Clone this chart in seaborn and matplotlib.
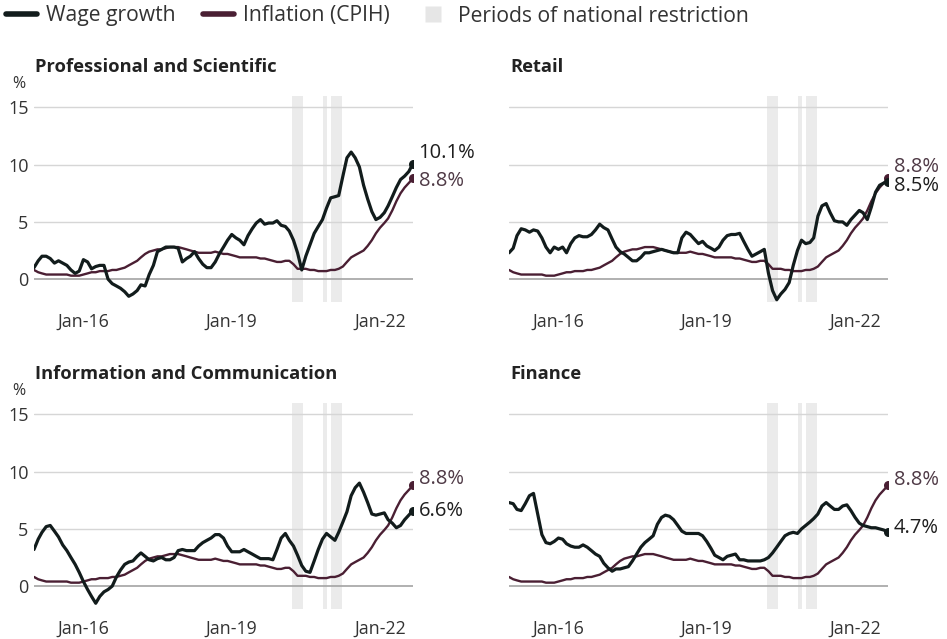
import pandas as pd
import matplotlib.pyplot as plt
import seaborn as sns
from matplotlib.lines import Line2D

# monthly, Jan 2015 - Sep 2022
months = pd.date_range("2015-01-01", periods=93, freq="MS")

cpih = [0.8, 0.6, 0.5, 0.4, 0.4, 0.4, 0.4, 0.4, 0.4, 0.3, 0.3, 0.3,
        0.4, 0.5, 0.6, 0.6, 0.7, 0.7, 0.7, 0.8, 0.8, 0.9, 1.0, 1.2,
        1.4, 1.6, 1.9, 2.2, 2.4, 2.5, 2.6, 2.6, 2.7, 2.8, 2.8, 2.8,
        2.7, 2.6, 2.5, 2.4, 2.3, 2.3, 2.3, 2.3, 2.4, 2.3, 2.2, 2.2,
        2.1, 2.0, 1.9, 1.9, 1.9, 1.9, 1.9, 1.8, 1.8, 1.7, 1.6, 1.5,
        1.5, 1.6, 1.6, 1.3, 0.9, 0.9, 0.9, 0.8, 0.8, 0.7, 0.7, 0.7,
        0.8, 0.8, 0.9, 1.1, 1.5, 1.9, 2.1, 2.3, 2.5, 2.9, 3.4, 4.0,
        4.5, 4.9, 5.3, 6.0, 6.8, 7.5, 8.0, 8.4, 8.8]

wage_prof = [1.0, 1.6, 2.0, 2.0, 1.8, 1.4, 1.6, 1.4, 1.2, 0.8, 0.5, 0.7,
             1.7, 1.5, 0.9, 1.1, 1.2, 1.2, 0.0, -0.4, -0.6, -0.8, -1.1, -1.5,
             -1.3, -1.0, -0.5, -0.6, 0.4, 1.2, 2.4, 2.6, 2.8, 2.8, 2.8, 2.7,
             1.5, 1.8, 2.0, 2.4, 1.8, 1.3, 1.0, 1.0, 1.5, 2.2, 2.8, 3.4,
             3.9, 3.6, 3.4, 3.0, 3.8, 4.4, 4.9, 5.2, 4.8, 4.9, 4.9, 5.1,
             4.7, 4.6, 4.2, 3.4, 2.3, 0.8, 2.0, 3.0, 4.0, 4.6, 5.2, 6.2,
             7.1, 7.2, 7.3, 9.0, 10.6, 11.1, 10.6, 9.8, 8.2, 7.0, 5.9, 5.2,
             5.4, 5.8, 6.4, 7.2, 8.0, 8.7, 9.0, 9.4, 10.1]

wage_retail = [2.3, 2.7, 3.8, 4.4, 4.3, 4.1, 4.3, 4.2, 3.6, 2.8, 2.3, 2.8,
               2.6, 2.8, 2.3, 3.1, 3.6, 3.8, 3.7, 3.7, 3.9, 4.3, 4.8, 4.5,
               4.3, 3.5, 2.8, 2.4, 2.2, 1.9, 1.6, 1.6, 1.9, 2.3, 2.3, 2.4,
               2.5, 2.6, 2.5, 2.4, 2.3, 2.3, 3.6, 4.1, 3.9, 3.5, 3.1, 3.3,
               2.9, 2.7, 2.5, 2.8, 3.4, 3.8, 3.9, 3.9, 4.0, 3.3, 2.6, 2.0,
               2.2, 2.4, 2.6, 0.5, -1.0, -1.8, -1.3, -0.9, -0.3, 1.2, 2.5, 3.4,
               3.1, 3.2, 3.6, 5.5, 6.4, 6.6, 5.8, 5.1, 5.0, 5.0, 4.7, 5.2,
               5.6, 6.0, 5.8, 5.2, 6.3, 7.6, 8.2, 8.4, 8.5]

wage_info = [3.2, 4.1, 4.7, 5.2, 5.3, 4.8, 4.3, 3.6, 3.1, 2.5, 1.9, 1.2,
             0.4, -0.3, -0.9, -1.5, -0.9, -0.5, -0.3, 0.0, 0.8, 1.4, 1.9, 2.1,
             2.2, 2.6, 2.9, 2.6, 2.3, 2.2, 2.4, 2.5, 2.3, 2.3, 2.5, 3.1,
             3.2, 3.1, 3.1, 3.1, 3.5, 3.8, 4.0, 4.2, 4.5, 4.5, 4.2, 3.5,
             3.0, 3.0, 3.0, 3.2, 3.0, 2.8, 2.6, 2.4, 2.4, 2.4, 2.3, 3.2,
             4.2, 4.6, 4.0, 3.5, 2.7, 1.8, 1.3, 1.2, 2.2, 3.2, 4.1, 4.6,
             4.3, 4.0, 4.7, 5.6, 6.5, 7.9, 8.6, 9.0, 8.2, 7.3, 6.3, 6.2,
             6.3, 6.4, 5.8, 5.5, 5.1, 5.3, 5.8, 6.2, 6.6]

wage_finance = [7.3, 7.2, 6.7, 6.6, 7.2, 7.9, 8.1, 6.3, 4.5, 3.8, 3.7, 3.9,
                4.2, 4.1, 3.7, 3.5, 3.4, 3.4, 3.6, 3.4, 3.1, 2.8, 2.6, 2.0,
                1.6, 1.3, 1.5, 1.5, 1.6, 1.7, 2.2, 2.8, 3.4, 3.8, 4.1, 4.4,
                5.4, 6.0, 6.2, 6.1, 5.8, 5.3, 4.8, 4.6, 4.6, 4.6, 4.6, 4.4,
                3.9, 3.3, 2.7, 2.5, 2.3, 2.6, 2.7, 2.8, 2.3, 2.3, 2.2, 2.2,
                2.2, 2.2, 2.3, 2.5, 2.9, 3.4, 3.9, 4.4, 4.6, 4.7, 4.6, 5.0,
                5.3, 5.6, 5.9, 6.3, 7.0, 7.3, 7.0, 6.7, 6.7, 7.0, 7.1, 6.6,
                6.0, 5.5, 5.3, 5.2, 5.1, 5.1, 5.0, 4.9, 4.7]

sectors = ["Professional and Scientific", "Retail",
           "Information and Communication", "Finance"]
wages = [wage_prof, wage_retail, wage_info, wage_finance]

restrictions = [("2020-03-23", "2020-06-08"),
                ("2020-11-05", "2020-12-02"),
                ("2021-01-06", "2021-03-29")]

tick_dates = pd.to_datetime(["2016-01-01", "2019-01-01", "2022-01-01"])
tick_labels = ["Jan-16", "Jan-19", "Jan-22"]

rows = []
for sector, w in zip(sectors, wages):
    for d, wv, cv in zip(months, w, cpih):
        rows.append((sector, d, "Wage growth", wv))
        rows.append((sector, d, "Inflation (CPIH)", cv))
df = pd.DataFrame(rows, columns=["sector", "date", "series", "value"])

WAGE = "#121c1c"
CPI = "#4a1f33"

sns.set_theme(style="white")
plt.rcParams["font.family"] = ["Open Sans", "DejaVu Sans"]

fig = plt.figure(figsize=(9.47, 6.39), dpi=100)
W, H = 947, 639
boxes = [(34, 96), (509, 96), (34, 403), (509, 403)]
# label offsets (wage, cpih) in data units to keep end labels apart
offsets = [(0.95, -0.2), (-0.35, 1.0), (0.0, 0.6), (0.4, 0.5)]

for i, (sector, (lx, ty)) in enumerate(zip(sectors, boxes)):
    ax = fig.add_axes([lx / W, 1 - (ty + 206) / H, 379 / W, 206 / H])
    for a, b in restrictions:
        ax.axvspan(pd.Timestamp(a), pd.Timestamp(b), color="#ebebeb", lw=0, zorder=0)
    for yv in [5, 10, 15]:
        ax.axhline(yv, color="#d6d6d6", lw=1, zorder=1)
    ax.axhline(0, color="#a3a3a3", lw=1.2, zorder=1)

    sub = df[df.sector == sector]
    sns.lineplot(data=sub[sub.series == "Inflation (CPIH)"], x="date", y="value",
                 color=CPI, lw=1.7, ax=ax, legend=False, zorder=3)
    sns.lineplot(data=sub[sub.series == "Wage growth"], x="date", y="value",
                 color=WAGE, lw=2.3, ax=ax, legend=False, zorder=4)

    wl, cl = wages[i][-1], cpih[-1]
    ax.scatter([months[-1]], [cl], color=CPI, s=30, zorder=5)
    ax.scatter([months[-1]], [wl], color=WAGE, s=30, zorder=6)
    dw, dc = offsets[i]
    ax.annotate(f"{wl:.1f}%", (months[-1], wl + dw), xytext=(4, 0),
                textcoords="offset points", va="center", ha="left",
                fontsize=14.5, color="#1e1e1e", annotation_clip=False)
    ax.annotate(f"{cl:.1f}%", (months[-1], cl + dc), xytext=(4, 0),
                textcoords="offset points", va="center", ha="left",
                fontsize=14.5, color="#4f3a46", annotation_clip=False)

    ax.set_xlim(months[0], months[-1])
    ax.set_ylim(-2, 16)
    ax.set_xticks(tick_dates)
    ax.set_xticklabels(tick_labels)
    ax.set_yticks([0, 5, 10, 15])
    ax.tick_params(axis="x", length=5, width=1, color="#c8c8c8",
                   labelsize=12.8, labelcolor="#333333", pad=3)
    ax.tick_params(axis="y", length=0, labelsize=13, labelcolor="#333333", pad=4)
    if i % 2 == 1:
        ax.set_yticklabels([])
    else:
        ax.text(-0.058, 1.06, "%", transform=ax.transAxes, fontsize=11.5,
                color="#333333", ha="left", va="center")
    ax.set_xlabel("")
    ax.set_ylabel("")
    sns.despine(ax=ax, left=True, bottom=True, top=True, right=True)
    ax.text(lx / W + 1 / W, 1 - (ty - 29) / H, sector, transform=fig.transFigure,
            fontsize=13.2, fontweight="bold", color="#222222", ha="left", va="center")

handles = [Line2D([0], [0], color=WAGE, lw=4),
           Line2D([0], [0], color=CPI, lw=4),
           Line2D([0], [0], color="none", marker="s", markersize=12,
                  markerfacecolor="#e6e6e6", markeredgecolor="none")]
fig.legend(handles, ["Wage growth", "Inflation (CPIH)", "Periods of national restriction"],
           loc="center left", bbox_to_anchor=(6 / W, 1 - 16 / H), ncol=3, frameon=False,
           fontsize=15.2, handlelength=1.45, handletextpad=0.45, columnspacing=1.3,
           labelcolor="#333333", borderaxespad=0, borderpad=0)

fig.savefig("out.png", dpi=100)
